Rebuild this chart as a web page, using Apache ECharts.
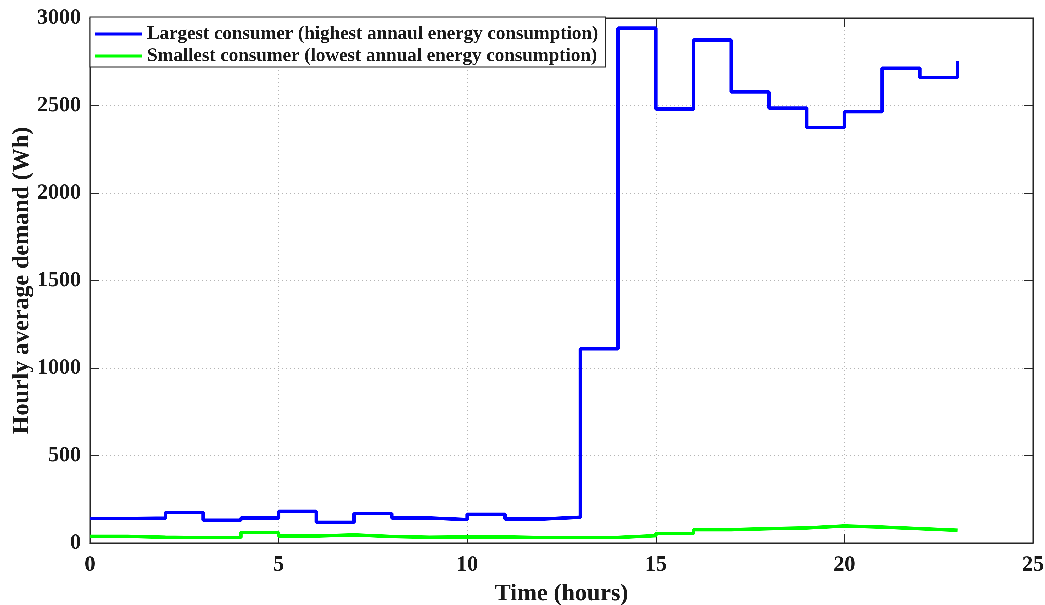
<!DOCTYPE html>
<html>
<head>
<meta charset="utf-8">
<script src="https://cdn.jsdelivr.net/npm/echarts@6/dist/echarts.min.js"></script>
<style>
  html, body { margin: 0; padding: 0; background: #fff; }
  #chart { width: 1045px; height: 605px; }
</style>
</head>
<body>
<div id="chart"></div>
<script>
// Hour of day at which each hourly average starts
const hours = [0, 1, 2, 3, 4, 5, 6, 7, 8, 9, 10, 11, 12, 13, 14, 15, 16, 17, 18, 19, 20, 21, 22, 23];

// Hourly average demand (Wh)
const largestConsumer = [140, 142, 175, 130, 143, 181, 118, 168, 143, 134, 164, 137, 147, 1110,
  2942, 2480, 2874, 2578, 2485, 2375, 2465, 2713, 2660, 2755];
const smallestConsumer = [38, 33, 31, 32, 60, 40, 46, 37, 33, 35, 35, 31, 32, 32,
  42, 54, 76, 82, 86, 97, 91, 82, 73, 72];

const seriesNames = [
  'Largest consumer (highest annaul energy consumption)',
  'Smallest consumer (lowest annual energy consumption)'
];

const xTicks = { min: 0, max: 25, interval: 5 };
const yTicks = { min: 0, max: 3000, interval: 500 };

const font = 'Liberation Serif';
const axisColor = '#262626';

function pairs(xs, ys) { return xs.map((x, i) => [x, ys[i]]); }

// Render at a higher pixel ratio so that small stair steps are kept as true corners
const chart = echarts.init(document.getElementById('chart'), null, { devicePixelRatio: 3 });

const gridLine = { show: true, lineStyle: { color: '#b4b4b4', type: [1, 3], width: 1 } };
const labelStyle = { color: '#1a1a1a', fontFamily: font, fontWeight: 'bold', fontSize: 22 };
const titleStyle = { fontFamily: font, fontWeight: 'bold', fontSize: 24, color: '#1a1a1a' };
const tick = { show: true, inside: true, length: 9, lineStyle: { color: axisColor } };
const line = { show: true, onZero: false, lineStyle: { color: axisColor } };

chart.setOption({
  animation: false,
  backgroundColor: '#fff',
  grid: {
    left: 90, right: 12, top: 18, bottom: 62,
    outerBoundsMode: 'none', containLabel: false,
    show: true, borderColor: axisColor, borderWidth: 1
  },
  legend: {
    left: 90, top: 17, orient: 'vertical',
    backgroundColor: '#fff', borderColor: axisColor, borderWidth: 1,
    padding: [6, 7, 0, 5], itemGap: 0, itemWidth: 47, itemHeight: 3,
    icon: 'rect',
    textStyle: { fontFamily: font, fontWeight: 'bold', fontSize: 19, lineHeight: 22, color: '#1a1a1a' },
    data: seriesNames
  },
  xAxis: [{
    type: 'value', min: xTicks.min, max: xTicks.max, interval: xTicks.interval,
    name: 'Time (hours)', nameLocation: 'middle', nameGap: 39, nameTextStyle: titleStyle,
    axisLine: line, axisTick: tick,
    axisLabel: Object.assign({ margin: 11 }, labelStyle),
    splitLine: gridLine
  }, {
    type: 'value', position: 'top', min: xTicks.min, max: xTicks.max, interval: xTicks.interval,
    axisLine: line, axisTick: tick,
    axisLabel: { show: false }, splitLine: { show: false }
  }],
  yAxis: [{
    type: 'value', min: yTicks.min, max: yTicks.max, interval: yTicks.interval,
    name: 'Hourly average demand (Wh)', nameLocation: 'middle', nameGap: 56,
    nameMoveOverlap: false, nameTextStyle: titleStyle,
    axisLine: line, axisTick: tick,
    axisLabel: Object.assign({ margin: 9, formatter: v => String(v) }, labelStyle),
    splitLine: gridLine
  }, {
    type: 'value', position: 'right', min: yTicks.min, max: yTicks.max, interval: yTicks.interval,
    axisLine: line, axisTick: tick,
    axisLabel: { show: false }, splitLine: { show: false }
  }],
  series: [{
    name: seriesNames[0], type: 'line', step: 'end',
    data: pairs(hours, largestConsumer),
    showSymbol: false, symbol: 'none',
    itemStyle: { color: '#0000ff' },
    lineStyle: { color: '#0000ff', width: 3.5 }
  }, {
    name: seriesNames[1], type: 'line', step: 'end',
    data: pairs(hours, smallestConsumer),
    showSymbol: false, symbol: 'none',
    itemStyle: { color: '#00ff00' },
    lineStyle: { color: '#00ff00', width: 3.5 }
  }]
});
</script>
</body>
</html>
